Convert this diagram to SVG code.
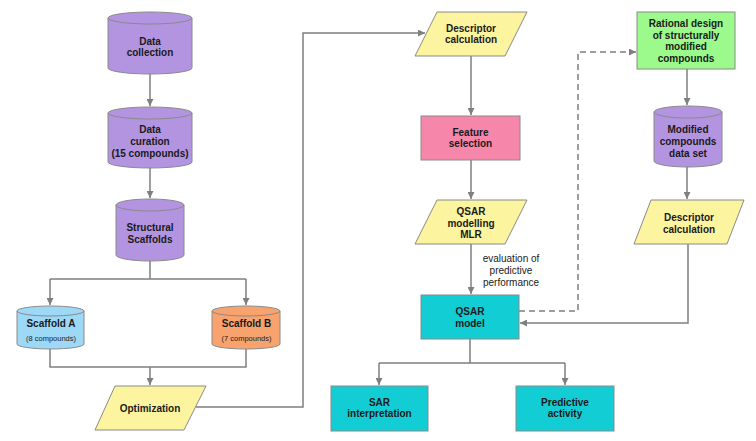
<svg xmlns="http://www.w3.org/2000/svg" width="756" height="441" viewBox="0 0 756 441">
<defs>
<style>
.t{font-family:"Liberation Sans",Arial,sans-serif;font-size:10px;font-weight:bold;fill:#1a1a1a;text-anchor:middle}
.s{font-family:"Liberation Sans",Arial,sans-serif;font-size:7.5px;fill:#222;text-anchor:middle}
.l{font-family:"Liberation Sans",Arial,sans-serif;font-size:10px;fill:#222;text-anchor:middle}
.sh{stroke:#8a8a8a;stroke-width:1}
.pu{fill:#b394e0}
.ye{fill:#fcf49f}
.te{fill:#12cdd4}
.c{fill:none;stroke:#7f7f7f;stroke-width:1.5}
.a{marker-end:url(#ah)}
.d{stroke-dasharray:6,4}
</style>
<marker id="ah" viewBox="0 0 10 10" refX="10" refY="5" markerWidth="7" markerHeight="7" markerUnits="userSpaceOnUse" orient="auto">
<path d="M0,0 L10,5 L0,10 Z" fill="#7f7f7f"/>
</marker>
</defs>
<rect width="756" height="441" fill="#ffffff"/>

<g id="connectors">
<path class="c a" d="M150,74 V106"/>
<path class="c a" d="M150,168 V198"/>
<path class="c" d="M150,261 V279 M50,279 H246"/>
<path class="c a" d="M50,279 V305"/>
<path class="c a" d="M246,279 V305"/>
<path class="c" d="M50,349 V367 H246 V349"/>
<path class="c a" d="M150,367 V385"/>
<path class="c a" d="M196,407 H303 V33 H425"/>
<path class="c a" d="M471,56 V115"/>
<path class="c a" d="M471,160 V199"/>
<path class="c a" d="M471,244 V294"/>
<path class="c" d="M470,339 V363 M379,363 H565"/>
<path class="c a" d="M379,363 V385"/>
<path class="c a" d="M565,363 V385"/>
<path class="c a d" d="M519,311 H578 V52 H636"/>
<path class="c a" d="M687,69 V105"/>
<path class="c a" d="M687,167 V199"/>
<path class="c a" d="M688,244 V323 H520"/>
<text class="l" x="511" y="262">evaluation of</text>
<text class="l" x="511" y="274">predictive</text>
<text class="l" x="511" y="286">performance</text>
</g>

<g id="data-collection">
<path class="pu sh" d="M108,18 V68 A42,6 0 0 0 192,68 V18 Z"/>
<ellipse class="pu sh" cx="150" cy="18" rx="42" ry="6"/>
<text class="t" x="150" y="45">Data</text>
<text class="t" x="150" y="56">collection</text>
</g>

<g id="data-curation">
<path class="pu sh" d="M108,113 V162 A42,6 0 0 0 192,162 V113 Z"/>
<ellipse class="pu sh" cx="150" cy="113" rx="42" ry="6"/>
<text class="t" x="150" y="133">Data</text>
<text class="t" x="150" y="145">curation</text>
<text class="t" x="150" y="157">(15 compounds)</text>
</g>

<g id="structural-scaffolds">
<path class="pu sh" d="M116,205 V255 A34,6 0 0 0 184,255 V205 Z"/>
<ellipse class="pu sh" cx="150" cy="205" rx="34" ry="6"/>
<text class="t" x="150" y="231">Structural</text>
<text class="t" x="150" y="243">Scaffolds</text>
</g>

<g id="scaffold-a">
<path class="sh" fill="#9ed8f7" d="M17,311 V344 A33.5,5 0 0 0 84,344 V311 Z"/>
<ellipse class="sh" fill="#9ed8f7" cx="50.5" cy="311" rx="33.5" ry="5"/>
<text class="t" x="51" y="327">Scaffold A</text>
<text class="s" x="51" y="341">(8 compounds)</text>
</g>

<g id="scaffold-b">
<path class="sh" fill="#f8a26e" d="M212,311 V344 A34,5 0 0 0 280,344 V311 Z"/>
<ellipse class="sh" fill="#f8a26e" cx="246" cy="311" rx="34" ry="5"/>
<text class="t" x="246.5" y="327">Scaffold B</text>
<text class="s" x="246.5" y="341">(7 compounds)</text>
</g>

<g id="optimization">
<polygon class="ye sh" points="115,386 206,386 184,430 95,430"/>
<text class="t" x="150" y="412">Optimization</text>
</g>

<g id="descriptor-calculation-1">
<polygon class="ye sh" points="437,12 527,12 505,56 415,56"/>
<text class="t" x="471" y="32">Descriptor</text>
<text class="t" x="471" y="43">calculation</text>
</g>

<g id="feature-selection">
<rect class="sh" fill="#f786ab" x="421" y="116" width="99" height="44"/>
<text class="t" x="470.5" y="136">Feature</text>
<text class="t" x="470.5" y="147">selection</text>
</g>

<g id="qsar-modelling">
<polygon class="ye sh" points="437,200 527,200 505,244 415,244"/>
<text class="t" x="471" y="215">QSAR</text>
<text class="t" x="471" y="227">modelling</text>
<text class="t" x="471" y="238">MLR</text>
</g>

<g id="qsar-model">
<rect class="te sh" x="421" y="295" width="98" height="44"/>
<text class="t" x="470" y="315">QSAR</text>
<text class="t" x="470" y="327">model</text>
</g>

<g id="sar-interpretation">
<rect class="te sh" x="331" y="386" width="97" height="45"/>
<text class="t" x="379.5" y="406">SAR</text>
<text class="t" x="379.5" y="417">interpretation</text>
</g>

<g id="predictive-activity">
<rect class="te sh" x="516" y="386" width="98" height="45"/>
<text class="t" x="565" y="406">Predictive</text>
<text class="t" x="565" y="417">activity</text>
</g>

<g id="rational-design">
<rect class="sh" fill="#9cf98c" x="637" y="12" width="98" height="57"/>
<text class="t" x="686" y="27">Rational design</text>
<text class="t" x="686" y="39">of structurally</text>
<text class="t" x="686" y="50">modified</text>
<text class="t" x="686" y="62">compounds</text>
</g>

<g id="modified-compounds">
<path class="pu sh" d="M654,112 V161 A34,6 0 0 0 722,161 V112 Z"/>
<ellipse class="pu sh" cx="688" cy="112" rx="34" ry="6"/>
<text class="t" x="688" y="133">Modified</text>
<text class="t" x="688" y="145">compounds</text>
<text class="t" x="688" y="157">data set</text>
</g>

<g id="descriptor-calculation-2">
<polygon class="ye sh" points="651,200 744,200 727,244 634,244"/>
<text class="t" x="689" y="221">Descriptor</text>
<text class="t" x="689" y="233">calculation</text>
</g>
</svg>
